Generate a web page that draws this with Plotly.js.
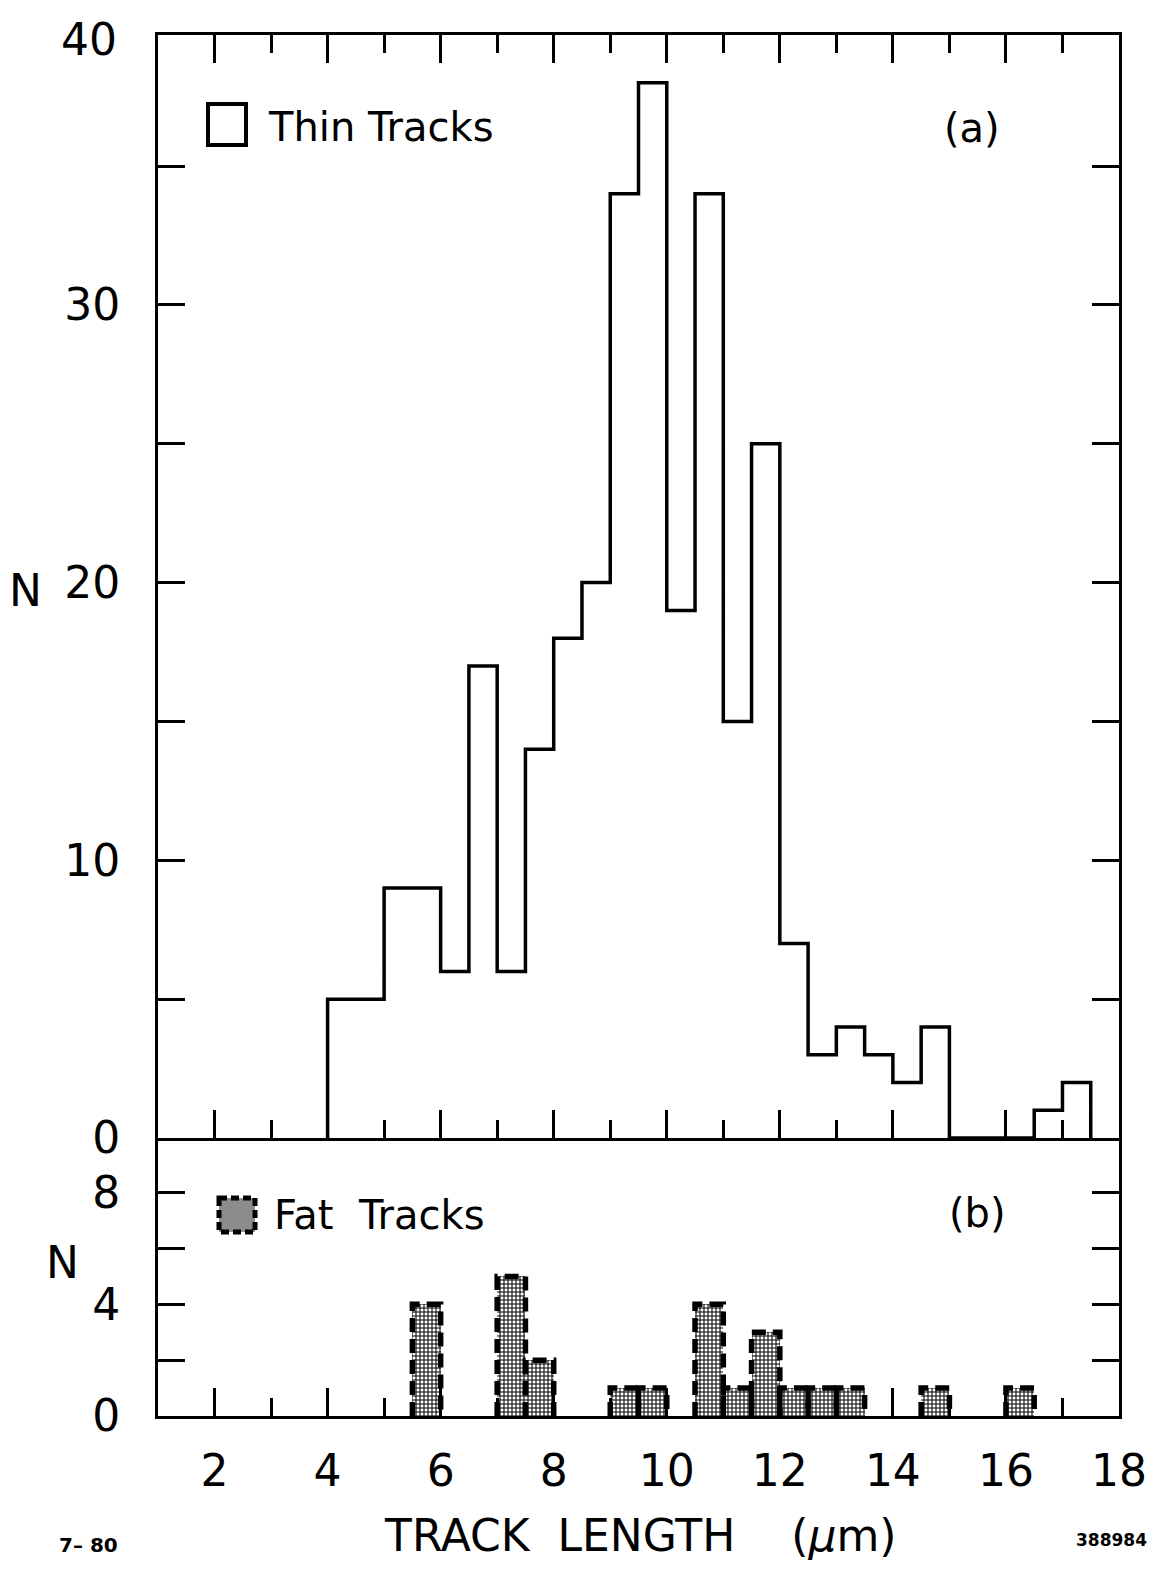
<!DOCTYPE html>
<html>
<head>
<meta charset="utf-8">
<script src="https://cdn.plot.ly/plotly-3.0.1.min.js"></script>
<style>html,body{margin:0;padding:0;background:#fff;}#chart{width:1154px;height:1569px;}</style>
</head>
<body>
<div id="chart"></div>
<script>
// ---- data ----
const binWidth = 0.5;
const thinBinStart = [4,4.5,5,5.5,6,6.5,7,7.5,8,8.5,9,9.5,10,10.5,11,11.5,12,12.5,13,13.5,14,14.5,15,15.5,16,16.5,17];
const thinCounts   = [5,5,9,9,6,17,6,14,18,20,34,38,19,34,15,25,7,3,4,3,2,4,0,0,0,1,2];
const fatBinStart  = [5.5,7,7.5,9,9.5,10.5,11,11.5,12,12.5,13,14.5,16];
const fatCounts    = [4,5,2,1,1,4,1,3,1,1,1,1,1];
const xTickVals = [2,4,6,8,10,12,14,16,18];
const xTickText = ['2','4','6','8','10','12','14','16','18'];
const yTopTickVals = [0,5,10,15,20,25,30,35];
const yTopTickText = ['0','','10','','20','','30',''];
const yBotTickVals = [0,2,4,6,8];
const yBotTickText = ['0','','4','','8'];

// ---- geometry helpers (pixel -> paper) ----
const L = 158, R = 35, T = 35, B = 153, W = 1154, H = 1569;
const pw = W - L - R, ph = H - T - B;
const px = x => (x - L) / pw;
const py = y => (H - B - y) / ph;
const split = py(1138);

const FONT = 'DejaVu Sans';

// thin tracks step outline
const stepX = [thinBinStart[0]].concat(thinBinStart, [thinBinStart[thinBinStart.length-1] + binWidth]);
const stepY = [0].concat(thinCounts, [0]);

// fat tracks outlines
const fx = [], fy = [];
fatBinStart.forEach((s, i) => {
  fx.push(s, s, s + binWidth, s + binWidth, null);
  fy.push(0, fatCounts[i], fatCounts[i], 0, null);
});

const traces = [
  {type:'scatter', mode:'lines', x: stepX, y: stepY, xaxis:'x', yaxis:'y',
   line:{shape:'hv', color:'#000', width:3.5}, cliponaxis:false, hoverinfo:'skip'},
  {type:'bar', x: fatBinStart.map(s => s + binWidth/2), y: fatCounts, width: binWidth,
   xaxis:'x2', yaxis:'y2',
   marker:{color:'#fff', line:{width:0},
           pattern:{shape:'+', fgcolor:'#000', bgcolor:'#fff', size:4, solidity:0.45}}},
  {type:'scatter', mode:'lines', x: fx, y: fy, xaxis:'x2', yaxis:'y2',
   line:{color:'#000', width:5.5, dash:'14px,7px'}, connectgaps:false, hoverinfo:'skip'}
];

const axisCommon = {
  showline:true, linecolor:'#000', linewidth:3, ticks:'inside', tickcolor:'#000',
  tickwidth:3, showgrid:false, zeroline:false, fixedrange:true,
  tickfont:{family:FONT, size:44, color:'#000'}
};

const layout = {
  width: W, height: H, paper_bgcolor:'#fff', plot_bgcolor:'#fff',
  margin:{l:L, r:R, t:T, b:B, pad:0},
  showlegend:false, hovermode:false, bargap:0,
  xaxis: Object.assign({}, axisCommon, {
    domain:[0,1], anchor:'y', range:[1,18], showticklabels:false, mirror:'ticks',
    tickmode:'array', tickvals:xTickVals, ticklen:28,
    minor:{dtick:1, tick0:0, ticks:'inside', ticklen:18, tickwidth:3, tickcolor:'#000', showgrid:false}
  }),
  yaxis: Object.assign({}, axisCommon, {
    domain:[split,1], anchor:'x', range:[0,39.72], mirror:'ticks',
    tickmode:'array', tickvals:yTopTickVals, ticktext:yTopTickText, ticklen:27,
    ticklabelstandoff:26
  }),
  xaxis2: Object.assign({}, axisCommon, {
    domain:[0,1], anchor:'y2', range:[1,18], mirror:false,
    tickmode:'array', tickvals:xTickVals, ticktext:xTickText, ticklen:28,
    ticklabelstandoff:14,
    minor:{dtick:1, tick0:0, ticks:'inside', ticklen:18, tickwidth:3, tickcolor:'#000', showgrid:false}
  }),
  yaxis2: Object.assign({}, axisCommon, {
    domain:[0,split], anchor:'x2', range:[0,9.96], mirror:'ticks',
    tickmode:'array', tickvals:yBotTickVals, ticktext:yBotTickText, ticklen:27,
    ticklabelstandoff:26
  }),
  shapes:[
    {type:'rect', xref:'paper', yref:'paper', x0:px(208), x1:px(246), y0:py(104), y1:py(145),
     line:{color:'#000', width:4}, fillcolor:'rgba(0,0,0,0)'},
    {type:'rect', xref:'paper', yref:'paper', x0:px(219), x1:px(255), y0:py(1198), y1:py(1232),
     line:{color:'#000', width:5, dash:'8px,4px'}, fillcolor:'#8c8c8c'}
  ],
  annotations:[
    {xref:'paper', yref:'paper', x:px(89), y:py(40), text:'40', showarrow:false, xanchor:'center', yanchor:'middle',
     font:{family:FONT, size:44, color:'#000'}},
    {xref:'paper', yref:'paper', x:px(25), y:py(590), text:'N', showarrow:false, xanchor:'center', yanchor:'middle',
     font:{family:FONT, size:44, color:'#000'}},
    {xref:'paper', yref:'paper', x:px(62), y:py(1262), text:'N', showarrow:false, xanchor:'center', yanchor:'middle',
     font:{family:FONT, size:44, color:'#000'}},
    {xref:'paper', yref:'paper', x:px(266), y:py(127), text:'Thin Tracks', showarrow:false, xanchor:'left', yanchor:'middle',
     font:{family:FONT, size:40, color:'#000'}},
    {xref:'paper', yref:'paper', x:px(972), y:py(128), text:'(a)', showarrow:false, xanchor:'center', yanchor:'middle',
     font:{family:FONT, size:40, color:'#000'}},
    {xref:'paper', yref:'paper', x:px(272), y:py(1215), text:'Fat\u00a0\u00a0Tracks', showarrow:false, xanchor:'left', yanchor:'middle',
     font:{family:FONT, size:40, color:'#000'}},
    {xref:'paper', yref:'paper', x:px(977), y:py(1213), text:'(b)', showarrow:false, xanchor:'center', yanchor:'middle',
     font:{family:FONT, size:40, color:'#000'}},
    {xref:'paper', yref:'paper', x:px(640), y:py(1535), text:'TRACK\u00a0\u00a0LENGTH\u00a0\u00a0\u00a0\u00a0(<i>\u03bc</i>m)', showarrow:false,
     xanchor:'center', yanchor:'middle', font:{family:FONT, size:44, color:'#000'}},
    {xref:'paper', yref:'paper', x:px(88), y:py(1545), text:'<b>7\u2013 80</b>', showarrow:false, xanchor:'center', yanchor:'middle',
     font:{family:FONT, size:20, color:'#000'}},
    {xref:'paper', yref:'paper', x:px(1111), y:py(1540), text:'<b>388984</b>', showarrow:false, xanchor:'center', yanchor:'middle',
     font:{family:FONT, size:17, color:'#000'}}
  ]
};

Plotly.newPlot('chart', traces, layout, {staticPlot:true, displayModeBar:false});
</script>
</body>
</html>
